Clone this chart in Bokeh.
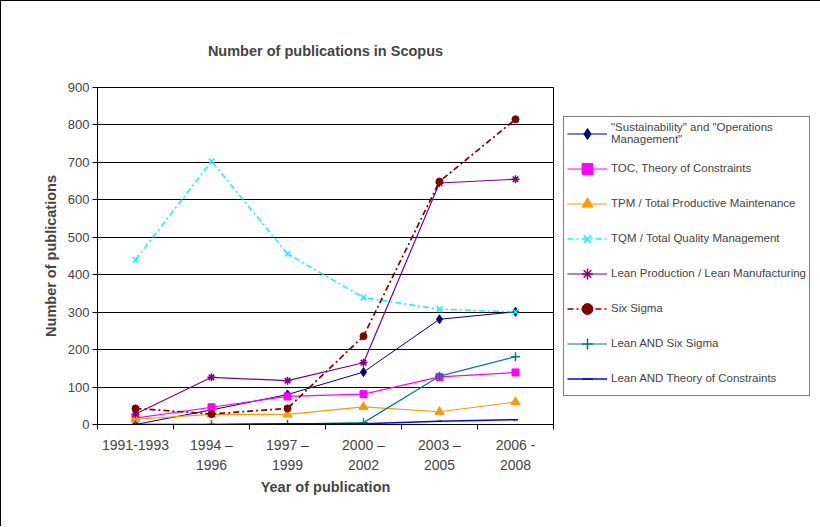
from bokeh.plotting import figure
from bokeh.models import (Range1d, LinearAxis, FixedTicker, Legend, LegendItem)
from bokeh.embed import file_html
from bokeh.resources import INLINE

periods = ["1991-1993", "1994 \u2013\n1996", "1997 \u2013\n1999", "2000 \u2013\n2002",
           "2003 \u2013\n2005", "2006 -\n2008"]
sustainability = [0, 39, 80, 140, 281, 301]
toc = [17, 46, 75, 81, 127, 139]
tpm = [14, 27, 27, 47, 34, 60]
tqm = [440, 703, 456, 339, 308, 301]
lean_production = [28, 126, 117, 165, 645, 655]
six_sigma = [43, 28, 43, 236, 649, 815]
lean_six_sigma = [0, 0, 1, 5, 129, 181]
lean_toc = [0, 0, 2, 2, 9, 13]
y_ticks = [0, 100, 200, 300, 400, 500, 600, 700, 800, 900]

FONT = "Liberation Sans"

# category slots: each period occupies one unit band, points at band centres
n = len(periods)
xpos = [i + 0.5 for i in range(n)]

p = figure(frame_width=456, frame_height=337, x_range=Range1d(0, n), y_range=Range1d(0, 900),
           output_backend="svg", toolbar_location=None, x_axis_location=None,
           min_border_left=96, min_border_right=260, min_border_top=86, min_border_bottom=102)
p.styles = {"border-left": "1px solid black", "border-top": "1px solid black"}

p.title.text = "Number of publications in Scopus"
p.title.text_font = FONT
p.title.text_font_size = "14.5px"
p.title.text_font_style = "bold"
p.title.align = "center"
p.title.standoff = 58

p.outline_line_color = "black"
p.outline_line_width = 1
p.background_fill_color = "white"

# y axis
ya = p.yaxis[0]
ya.ticker = FixedTicker(ticks=y_ticks)
ya.axis_label = "Number of publications"
ya.axis_label_text_font = FONT
ya.axis_label_text_font_size = "14.5px"
ya.axis_label_text_font_style = "bold"
ya.axis_label_standoff = 6
ya.major_label_text_font = FONT
ya.major_label_text_font_size = "13px"
ya.major_label_standoff = 3
ya.major_tick_in = 0
ya.major_tick_out = 5
ya.minor_tick_line_color = None
ya.axis_line_color = "black"
ya.major_tick_line_color = "black"

p.ygrid.grid_line_color = "black"
p.ygrid.grid_line_width = 1
p.xgrid.visible = False

# x axis: boundary ticks, then labels at band centres
tick_axis = LinearAxis(ticker=FixedTicker(ticks=list(range(n + 1))),
                       major_label_text_font_size="1px", major_label_text_alpha=0,
                       major_label_standoff=0, major_tick_in=0, major_tick_out=5,
                       minor_tick_line_color=None, axis_line_color="black")
p.add_layout(tick_axis, "below")
label_axis = LinearAxis(ticker=FixedTicker(ticks=xpos),
                        major_label_overrides={x: lab for x, lab in zip(xpos, periods)},
                        major_tick_line_color=None, minor_tick_line_color=None, axis_line_color=None,
                        major_label_text_font=FONT, major_label_text_font_size="14px",
                        major_label_text_line_height=1.3, major_label_standoff=1,
                        axis_label="Year of publication", axis_label_text_font=FONT,
                        axis_label_text_font_size="14.5px", axis_label_text_font_style="bold",
                        axis_label_standoff=3)
p.add_layout(label_axis, "below")

series = [
    ('"Sustainability" and "Operations\nManagement"', sustainability, "#000080", "solid", 1, "diamond", 9),
    ("TOC, Theory of Constraints", toc, "#FF00FF", "solid", 1.2, "square", 7),
    ("TPM / Total Productive Maintenance", tpm, "#FF9900", "solid", 1.2, "triangle", 9),
    ("TQM / Total Quality Management", tqm, "#00FFFF", "6 3 2 3", 1.5, "x", 8),
    ("Lean Production / Lean Manufacturing", lean_production, "#800080", "solid", 1.2, "asterisk", 8),
    ("Six Sigma", six_sigma, "#800000", "6 3 2 3", 1.7, "circle", 7),
    ("Lean AND Six Sigma", lean_six_sigma, "#008080", "solid", 1.2, "cross", 9),
    ("Lean AND Theory of Constraints", lean_toc, "#0000FF", "solid", 1.5, "dash", 5),
]

items = []
for label, vals, color, dash, lw, marker, size in series:
    ln = p.line(xpos, vals, line_color=color, line_width=lw, line_dash=dash)
    sc = p.scatter(xpos, vals, marker=marker, size=size, line_color=color, fill_color=color,
                   line_width=1.5 if marker in ("x", "asterisk", "cross", "dash") else 1)
    items.append(LegendItem(label=label, renderers=[ln, sc]))

legend = Legend(items=items, location="left", orientation="vertical",
                label_text_font=FONT, label_text_font_size="11.5px",
                glyph_width=40, glyph_height=27, label_height=27, label_standoff=4,
                spacing=8, padding=3, margin=10,
                border_line_color="black", border_line_width=1,
                background_fill_color="white", background_fill_alpha=1)
p.add_layout(legend, "right")

open("out.html", "w").write(file_html(p, INLINE))
